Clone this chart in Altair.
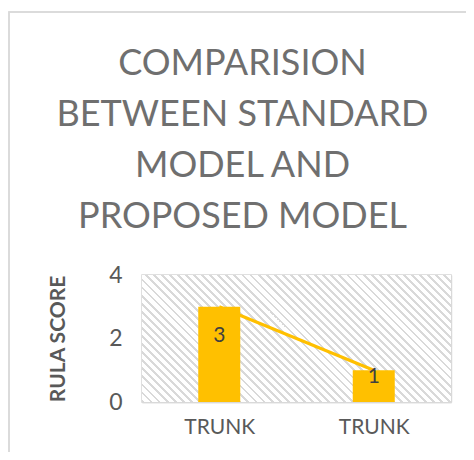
import altair as alt
import pandas as pd

categories = ["TRUNK (standard)", "TRUNK (proposed)"]
tick_labels = ["TRUNK", "TRUNK"]
scores = [3, 1]

df = pd.DataFrame({"cat": categories, "score": scores, "label": tick_labels})

# diagonal hatch for the plot background, built as a striped gradient
W, H = 309, 127
n_periods = 54
stops = []
for i in range(n_periods):
    a = i / n_periods
    b = (i + 0.35) / n_periods
    stops += [
        alt.GradientStop(offset=a, color="#d9d9d9"),
        alt.GradientStop(offset=b, color="#d9d9d9"),
        alt.GradientStop(offset=b, color="#ffffff"),
        alt.GradientStop(offset=(i + 1) / n_periods, color="#ffffff"),
    ]
k = H / W
span = (1 + k) / (1 + k * k)
hatch = alt.LinearGradient(
    gradient="linear", stops=stops, x1=0, y1=1, x2=span, y2=1 - span * k
)

x_enc = alt.X(
    "cat:N",
    sort=categories,
    title=None,
    axis=alt.Axis(
        labelExpr="datum.value == null ? '' : 'TRUNK'",
        labelAngle=0,
        labelFontSize=21,
        labelColor="#595959",
        labelFont="Lato",
        labelPadding=14,
        ticks=False,
        domainColor="#d9d9d9",
        domainWidth=1.5,
        grid=True,
        gridColor="#d9d9d9",
        gridWidth=1.5,
        tickBand="extent",
    ),
    scale=alt.Scale(paddingInner=0, paddingOuter=0),
)
y_enc = alt.Y(
    "score:Q",
    title="RULA SCORE",
    scale=alt.Scale(domain=[0, 4]),
    axis=alt.Axis(
        values=[0, 2, 4],
        domain=False,
        ticks=False,
        grid=True,
        gridColor="#d9d9d9",
        gridWidth=1.5,
        labelFontSize=23,
        labelColor="#595959",
        labelFont="Lato",
        labelPadding=20,
        titleFont="Lato",
        titleFontSize=21,
        titleFontWeight="bold",
        titleColor="#595959",
        titlePadding=40,
    ),
)

base = alt.Chart(df)

background = base.mark_rect(fill=hatch, stroke=None).encode(
    x=alt.value(0), x2=alt.value("width"), y=alt.value(0), y2=alt.value("height")
)

frame = base.mark_rect(fill=None, stroke="#d9d9d9", strokeWidth=1.5, clip=False).encode(
    x=alt.value(-133), x2=alt.value(400), y=alt.value(-263), y2=alt.value(250)
)

line = base.mark_line(color="#FFC000", strokeWidth=3).encode(x=x_enc, y=y_enc)
bars = base.mark_bar(color="#FFC000", size=42).encode(x=x_enc, y=y_enc)

text1 = base.transform_filter(alt.datum.score == 3).mark_text(
    font="Lato", fontSize=21, color="#404040", baseline="middle", dy=29
).encode(x=x_enc, y=y_enc, text="score:Q")
text2 = base.transform_filter(alt.datum.score == 1).mark_text(
    font="Lato", fontSize=21, color="#404040", baseline="middle", dy=7
).encode(x=x_enc, y=y_enc, text="score:Q")

chart = (
    alt.layer(frame, background, line, bars, text1, text2)
    .properties(
        width=W,
        height=H,
        autosize=alt.AutoSizeParams(type="none"),
        padding={"left": 134, "top": 267, "right": 15, "bottom": 50},
        title=alt.TitleParams(
            text=["COMPARISION", "BETWEEN STANDARD", "MODEL AND", "PROPOSED MODEL"],
            font="Lato",
            fontSize=36,
            fontWeight="normal",
            color="#6f6f6f",
            lineHeight=51,
            anchor="middle",
            frame="group",
            dx=-54,
            dy=225,
            offset=0,
        ),
    )
    .configure_view(stroke="#d9d9d9", strokeWidth=1.5)
)

chart.save("out.html", embed_options={"renderer": "svg", "actions": False})
